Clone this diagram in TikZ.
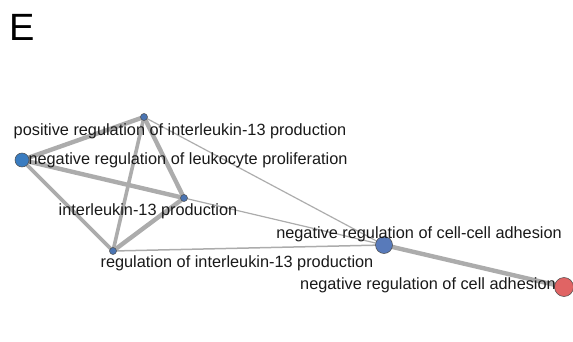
\documentclass[tikz,border=0pt]{standalone}
\usepackage{fontspec}
\setmainfont{Liberation Sans}
\usetikzlibrary{backgrounds}
\begin{document}
\begin{tikzpicture}[x=1pt,y=-1pt,
  edge/.style={draw={rgb,255:red,172;green,172;blue,172}, line cap=round},
  thickedge/.style={edge, line width=4.4pt},
  midedge/.style={edge, line width=3.6pt},
  thinedge/.style={edge, line width=1.2pt},
  vert/.style={circle, draw=black!70, line width=0.5pt, inner sep=0pt},
  lbl/.style={font=\fontsize{16.3}{18}\selectfont, inner sep=0pt, text=black!90}]
\useasboundingbox (0,0) rectangle (573,342);
\node[font=\fontsize{38}{40}\selectfont, inner sep=0pt] (title) at (22,27) {E};
% vertices
\node[vert, fill={rgb,255:red,74;green,116;blue,178}, minimum size=7pt] (A) at (144,117) {};
\node[vert, fill={rgb,255:red,58;green,124;blue,192}, minimum size=14pt] (B) at (22,160) {};
\node[vert, fill={rgb,255:red,74;green,116;blue,178}, minimum size=7pt] (C) at (184,198) {};
\node[vert, fill={rgb,255:red,74;green,116;blue,178}, minimum size=7pt] (D) at (113,251) {};
\node[vert, fill={rgb,255:red,88;green,122;blue,186}, minimum size=17pt] (E) at (384,245) {};
\node[vert, fill={rgb,255:red,224;green,100;blue,100}, minimum size=19pt] (F) at (564,287) {};
% edges
\begin{scope}[on background layer]
\draw[thickedge] (A.center) -- (B.center);
\draw[thickedge] (A.center) -- (C.center);
\draw[midedge] (A.center) -- (D.center);
\draw[thickedge] (B.center) -- (C.center);
\draw[midedge] (B.center) -- (D.center);
\draw[thickedge] (C.center) -- (D.center);
\draw[thinedge] (A.center) -- (E.center);
\draw[thinedge] (C.center) -- (E.center);
\draw[thinedge, line width=1.5pt] (D.center) -- (E.center);
\draw[thickedge] (E.center) -- (F.center);
\end{scope}
% labels
\node[lbl] (lA) at (180,131) {positive regulation of interleukin-13 production};
\node[lbl] (lB) at (188,160) {negative regulation of leukocyte proliferation};
\node[lbl] (lC) at (148,211) {interleukin-13 production};
\node[lbl] (lD) at (237,263) {regulation of interleukin-13 production};
\node[lbl] (lE) at (419,234) {negative regulation of cell-cell adhesion};
\node[lbl] (lF) at (428,285) {negative regulation of cell adhesion};
\end{tikzpicture}
\end{document}
